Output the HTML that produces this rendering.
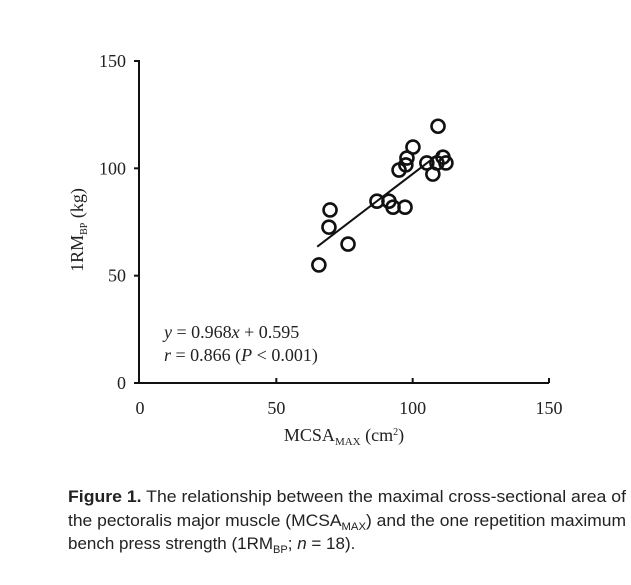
<!DOCTYPE html>
<html><head><meta charset="utf-8"><style>
body{margin:0;background:#fff;width:631px;height:585px;overflow:hidden}
svg{display:block}
.serif{font-family:"Liberation Serif",serif;fill:#222}
.cap{font-family:"Liberation Sans",sans-serif;font-size:17px;fill:#222}
</style></head><body>
<svg id="chart" width="631" height="585">
<line x1="139" y1="60" x2="139" y2="384" stroke="#111" stroke-width="2"/>
<line x1="138" y1="383" x2="549" y2="383" stroke="#111" stroke-width="2"/>
<g id="ticks"></g>
<g id="marks"></g>
<text class="serif" font-size="18" transform="translate(83,230) rotate(-90)" text-anchor="middle">1RM<tspan font-size="10" dy="4">BP</tspan><tspan dy="-4"> (kg)</tspan></text>
<text class="serif" font-size="18" x="344" y="441" text-anchor="middle">MCSA<tspan font-size="11" dy="4">MAX</tspan><tspan dy="-4"> (cm</tspan><tspan font-size="10" dy="-6">2</tspan><tspan dy="6">)</tspan></text>
<text class="serif" font-size="18" x="164" y="338"><tspan font-style="italic">y</tspan> = 0.968<tspan font-style="italic">x</tspan> + 0.595</text>
<text class="serif" font-size="18" x="164" y="361"><tspan font-style="italic">r</tspan> = 0.866 (<tspan font-style="italic">P</tspan> &lt; 0.001)</text>
<text class="cap" x="68" y="502" textLength="558" lengthAdjust="spacingAndGlyphs"><tspan font-weight="bold">Figure 1.</tspan> The relationship between the maximal cross-sectional area of</text>
<text class="cap" x="68" y="526" textLength="558" lengthAdjust="spacingAndGlyphs">the pectoralis major muscle (MCSA<tspan font-size="11" dy="4">MAX</tspan><tspan dy="-4">) and the one repetition maximum</tspan></text>
<text class="cap" x="68" y="549" font-size="16.5">bench press strength (1RM<tspan font-size="11" dy="4">BP</tspan><tspan dy="-4">; </tspan><tspan font-style="italic">n</tspan> = 18).</text>
</svg>
<script>
const xTicks=[0,50,100,150];
const yTicks=[0,50,100,150];
const xVals=[65.6,69.7,69.3,76.3,86.9,91.3,92.8,97.2,95.0,97.9,100.1,97.5,109.3,105.2,107.4,111.1,112.2,108.9];
const yVals=[55.0,80.6,72.6,64.7,84.7,84.7,81.9,81.9,99.2,104.8,109.9,101.6,119.6,102.5,97.3,105.2,102.5,102.5];
const slope=0.968, intercept=0.595, fitRange=[65,110];
const sx=v=>140+v*(409/150);
const sy=v=>383-v*(322/150);
const NS='http://www.w3.org/2000/svg';
const tg=document.getElementById('ticks'), mg=document.getElementById('marks');
function mk(tag,attrs,parent){const e=document.createElementNS(NS,tag);for(const k in attrs)e.setAttribute(k,attrs[k]);parent.appendChild(e);return e;}
xTicks.forEach(t=>{
  if(t>0){const l=mk('line',{x1:sx(t),x2:sx(t),y1:378,y2:383,stroke:'#111','stroke-width':2},tg);
  
  }
  const tx=mk('text',{x:sx(t),y:414,'text-anchor':'middle',class:'serif','font-size':18},tg);tx.textContent=t;
  
  
});
yTicks.forEach(t=>{
  const l=mk('line',{x1:134,x2:139,y1:sy(t),y2:sy(t),stroke:'#111','stroke-width':2},tg);
  
  
  const tx=mk('text',{x:126,y:sy(t)+6,'text-anchor':'end',class:'serif','font-size':18},tg);tx.textContent=t;
  
  
});
const fl=mk('line',{x1:sx(fitRange[0]),y1:sy(slope*fitRange[0]+intercept),x2:sx(fitRange[1]),y2:sy(slope*fitRange[1]+intercept),stroke:'#111','stroke-width':2},mg);


xVals.forEach((x,i)=>{
  const c=mk('circle',{cx:sx(x),cy:sy(yVals[i]),r:6.5,fill:'none',stroke:'#111','stroke-width':2.6},mg);
  
  
});
</script>
</body></html>
